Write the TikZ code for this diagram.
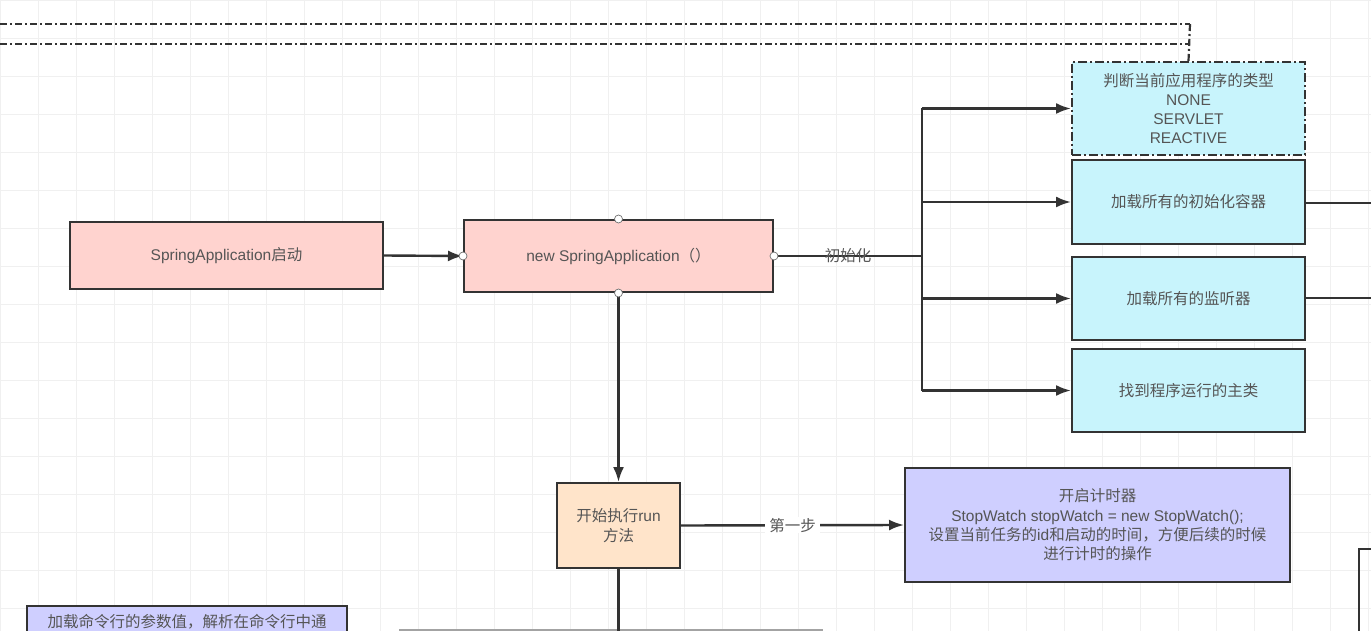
\documentclass[tikz,border=0pt]{standalone}
\usepackage{fontspec}
\setmainfont{Liberation Sans}
\newfontfamily\cjk{Noto Sans CJK SC}
\newcommand{\zh}[1]{{\cjk #1}}
\usetikzlibrary{arrows.meta}
\definecolor{edge}{HTML}{333333}
\definecolor{txt}{HTML}{555555}
\definecolor{pinkfill}{HTML}{FFD3CF}
\definecolor{cyanfill}{HTML}{C8F4FC}
\definecolor{orangefill}{HTML}{FFE4CA}
\definecolor{lavfill}{HTML}{CFCFFF}
\definecolor{gridc}{HTML}{F0F0F0}
\tikzset{
  box/.style={draw=edge, line width=2pt, rectangle, align=center, text=txt,
    font=\fontsize{15.5}{19.3}\selectfont, inner sep=2pt},
  pinkbox/.style={box, fill=pinkfill},
  cyanbox/.style={box, fill=cyanfill, minimum width=233pt},
  orangebox/.style={box, fill=orangefill},
  lavbox/.style={box, fill=lavfill},
  conn/.style={draw=edge, line width=2.4pt},
  arr/.style={conn, -{Latex[length=15pt,width=11pt]}},
  lbl/.style={text=txt, font=\fontsize{15.5}{18}\selectfont, inner sep=1pt},
  port/.style={circle, draw=edge!70, fill=white, line width=0.7pt, minimum size=8pt, inner sep=0pt},
  dashdot/.style={draw=edge, line width=2.2pt, dash pattern=on 7pt off 3pt on 2pt off 3pt},
}
\begin{document}
\begin{tikzpicture}[x=1pt,y=-1pt]
\useasboundingbox (0,0) rectangle (1371,631);
\clip (0,0) rectangle (1371,631);
\fill[white] (0,0) rectangle (1371,631);
% background grid
\draw[gridc, line width=0.8pt, step=38pt] (0,0) grid (1371,631);

% upper dash-dot frame lines
\coordinate (t1) at (0,24);
\coordinate (t2) at (0,44);
\coordinate (tc1) at (1190,24);
\coordinate (tc2) at (1190,44);
\draw[dashdot] (t1) -- (tc1);
\draw[dashdot] (t2) -- (tc2);

% main flow nodes
\node[pinkbox, minimum width=313pt, minimum height=67pt] (start) at (226.5,255.5) {SpringApplication\zh{启动}};
\node[pinkbox, minimum width=309pt, minimum height=72pt] (newapp) at (618.5,256) {new SpringApplication\zh{（）}};

\node[cyanbox, minimum height=93pt, dash pattern=on 9pt off 3pt on 2pt off 3pt] (type) at (1188.5,108.5)
  {\zh{判断当前应用程序的类型}\\NONE\\SERVLET\\REACTIVE};
\node[cyanbox, minimum height=84pt] (init) at (1188.5,202) {\zh{加载所有的初始化容器}};
\node[cyanbox, minimum height=83pt] (listen) at (1188.5,298.5) {\zh{加载所有的监听器}};
\node[cyanbox, minimum height=83pt] (mainc) at (1188.5,390.5) {\zh{找到程序运行的主类}};

\node[orangebox, minimum width=123pt, minimum height=85pt] (run) at (618.5,525.5) {\zh{开始执行}run\\\zh{方法}};
\node[lavbox, minimum width=385pt, minimum height=114pt] (watch) at (1097.5,525)
  {\zh{开启计时器}\\StopWatch stopWatch = new StopWatch();\\\zh{设置当前任务的}id\zh{和启动的时间，方便后续的时候}\\\zh{进行计时的操作}};

% boxes cut by the lower edge
\node[lavbox, minimum width=320pt, minimum height=48pt] (args) at (187,630) {};
\node[lbl] (argstext) at (187,622) {\zh{加载命令行的参数值，解析在命令行中通}};
\node[draw=edge!45, line width=2pt, minimum width=422pt, minimum height=40pt, inner sep=0pt] (lowbox) at (611,650) {};
\node[draw=edge, line width=2pt, minimum width=100pt, minimum height=100pt, anchor=north west, inner sep=0pt] (rightbox) at (1358,548) {};

% vertical link from the frame into the type box
\draw[dashdot] (tc1) -- (type.north);

% connectors
\draw[arr] (start.east) -- (newapp.west);

\coordinate (bus) at (922,256);
\draw[conn] (newapp.east) -- (bus);
\node[lbl] (initlbl) at (848,256) {\zh{初始化}};
\draw[conn] (type.west -| bus) -- (mainc.west -| bus);
\draw[arr] (type.west -| bus) -- (type.west);
\draw[arr] (init.west -| bus) -- (init.west);
\draw[arr] (listen.west -| bus) -- (listen.west);
\draw[arr] (mainc.west -| bus) -- (mainc.west);

\coordinate (outinit) at (1371,203);
\coordinate (outlisten) at (1371,298);
\draw[conn] (init.east |- outinit) -- (outinit);
\draw[conn] (listen.east |- outlisten) -- (outlisten);

\draw[arr] (newapp.south) -- (run.north);
\draw[arr] (run.east) -- node[lbl, fill=white, inner xsep=4pt] (steplbl) {\zh{第一步}} (watch.west);
\coordinate (runout) at (618.5,640);
\draw[conn] (run.south) -- (runout);

% connection points on the selected shape
\node[port] (pn) at (newapp.north) {};
\node[port] (ps) at (newapp.south) {};
\node[port] (pw) at (newapp.west) {};
\node[port] (pe) at (newapp.east) {};
\end{tikzpicture}
\end{document}
